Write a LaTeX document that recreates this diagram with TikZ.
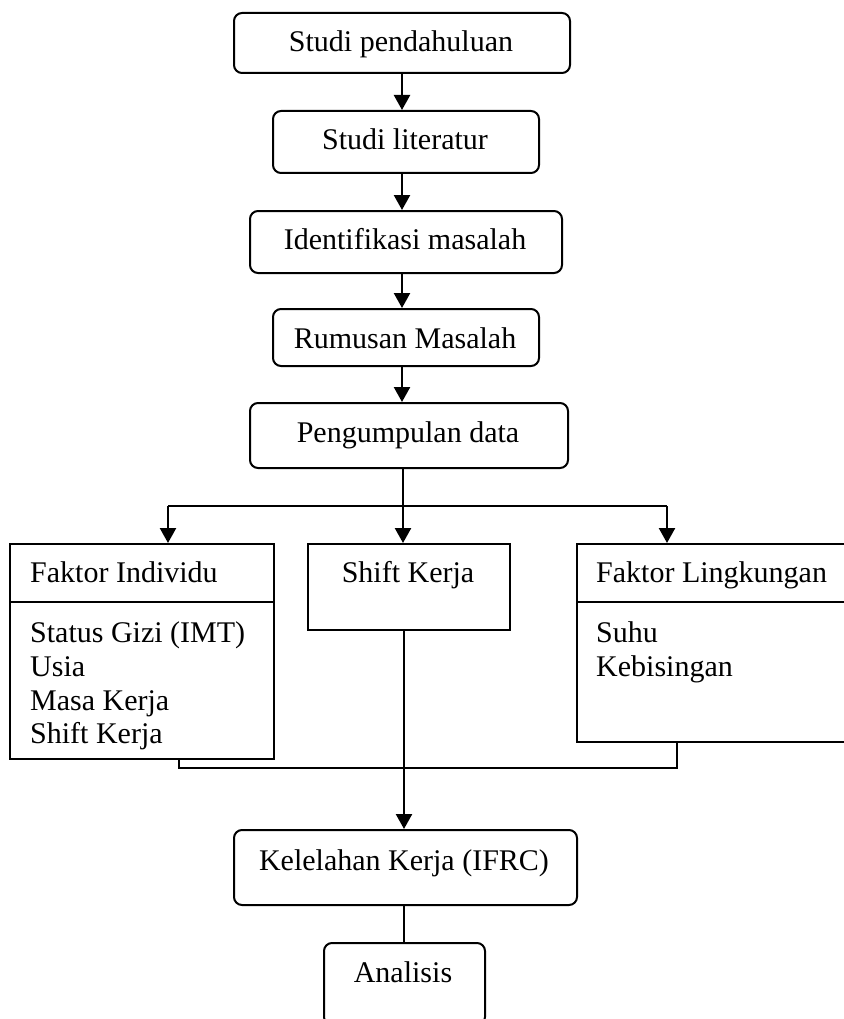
\documentclass[tikz,border=0pt]{standalone}
\usepackage{fontspec}
\setmainfont{Liberation Serif}
\usetikzlibrary{arrows.meta}
\tikzset{
  rbox/.style={draw, line width=2pt, rounded corners=8pt, inner sep=0pt, anchor=north west},
  sbox/.style={draw, line width=2pt, inner sep=0pt, anchor=north west},
  lbl/.style={inner sep=0pt, anchor=base, font=\fontsize{30}{34}\selectfont},
  lbll/.style={inner sep=0pt, anchor=base west, font=\fontsize{30}{34}\selectfont},
  flow/.style={line width=2.4pt, -{Triangle[width=16pt,length=15pt]}},
  link/.style={line width=2pt}
}
\begin{document}
\begin{tikzpicture}[x=1pt,y=-1pt]
\useasboundingbox (0,0) rectangle (843,1019);
% top chain
\node[rbox, minimum width=336pt, minimum height=60pt] (b1) at (233,12) {};
\node[lbl] (t1) at (401,52) {Studi pendahuluan};
\node[rbox, minimum width=266pt, minimum height=62pt] (b2) at (272,110) {};
\node[lbl] (t2) at (405,150) {Studi literatur};
\node[rbox, minimum width=312pt, minimum height=62pt] (b3) at (249,210) {};
\node[lbl] (t3) at (405,249) {Identifikasi masalah};
\node[rbox, minimum width=266pt, minimum height=57pt] (b4) at (272,308) {};
\node[lbl] (t4) at (405,348) {Rumusan Masalah};
\node[rbox, minimum width=318pt, minimum height=65pt] (b5) at (249,402) {};
\node[lbl] (t5) at (408,442) {Pengumpulan data};
\coordinate (ax) at (402,0);
\draw[flow] (b1.south -| ax) -- (b2.north -| ax);
\draw[flow] (b2.south -| ax) -- (b3.north -| ax);
\draw[flow] (b3.south -| ax) -- (b4.north -| ax);
\draw[flow] (b4.south -| ax) -- (b5.north -| ax);
% three factor boxes
\node[sbox, minimum width=264pt, minimum height=215pt] (f1) at (9,543) {};
\draw[line width=2pt] (9,602) -- (273,602);
\node[lbll] (f1t) at (30,582) {Faktor Individu};
\node[lbll] (f1a) at (30,642) {Status Gizi (IMT)};
\node[lbll] (f1b) at (30,676) {Usia};
\node[lbll] (f1c) at (30,710) {Masa Kerja};
\node[lbll] (f1d) at (30,743) {Shift Kerja};
\node[sbox, minimum width=202pt, minimum height=86pt] (sk) at (307,543) {};
\node[lbl] (skt) at (408,582) {Shift Kerja};
\node[sbox, minimum width=272pt, minimum height=198pt] (f3) at (576,543) {};
\draw[line width=2pt] (576,602) -- (848,602);
\node[lbll] (f3t) at (596,582) {Faktor Lingkungan};
\node[lbll] (f3a) at (596,642) {Suhu};
\node[lbll] (f3b) at (596,676) {Kebisingan};
% split
\coordinate (sp) at (403,506);
\coordinate (spl) at (168,506);
\coordinate (spr) at (667,506);
\draw[link] (b5.south -| sp) -- (sp);
\draw[link] (spl) -- (spr);
\draw[flow] (spl) -- (spl |- f1.north);
\draw[flow] (sp) -- (sp |- sk.north);
\draw[flow] (spr) -- (spr |- f3.north);
% merge
\coordinate (ml) at (179,768);
\coordinate (mr) at (677,768);
\draw[link] (ml |- f1.south) -- (ml) -- (mr) -- (mr |- f3.south);
% bottom
\node[rbox, minimum width=343pt, minimum height=75pt] (k) at (233,829) {};
\node[lbl] (kt) at (404,870) {Kelelahan Kerja (IFRC)};
\node[rbox, minimum width=161pt, minimum height=82pt] (an) at (323,942) {};
\node[lbl] (ant) at (403,982) {Analisis};
\coordinate (cx) at (404,0);
\draw[flow] (sk.south -| cx) -- (k.north -| cx);
\draw[link] (k.south -| cx) -- (an.north -| cx);
\end{tikzpicture}
\end{document}
